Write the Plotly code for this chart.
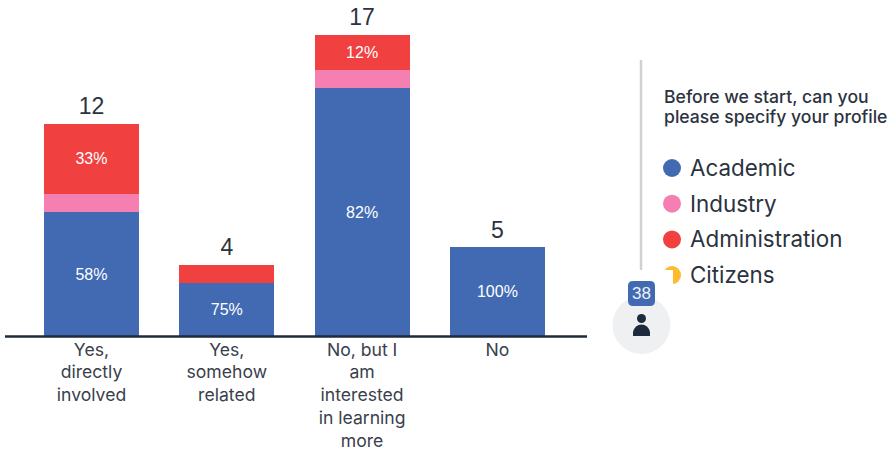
import plotly.graph_objects as go

categories = ["Yes,<br>directly<br>involved", "Yes,<br>somehow<br>related",
              "No, but I<br>am<br>interested<br>in learning<br>more", "No"]
academic = [7, 3, 14, 5]
industry = [1, 0, 1, 0]
administration = [4, 1, 2, 0]
totals = [12, 4, 17, 5]
academic_labels = ["58%", "75%", "82%", "100%"]
industry_labels = ["", "", "", ""]
administration_labels = ["33%", "", "12%", ""]
legend_names = ["Academic", "Industry", "Administration", "Citizens"]
legend_colors = ["#416ab3", "#f47fb0", "#f04040", "#fdbb2d"]
legend_title_lines = ["Before we start, can you", "please specify your profile"]
respondents = "38"

W, H = 890, 451
ML, MR, MT, MB = 5, 303, 0, 115
LABEL_FONT = "Inter"
DARK = "#2c3340"
positions = list(range(len(categories)))

fig = go.Figure()
for vals, labels, color, name in [
    (academic, academic_labels, legend_colors[0], legend_names[0]),
    (industry, industry_labels, legend_colors[1], legend_names[1]),
    (administration, administration_labels, legend_colors[2], legend_names[2]),
]:
    fig.add_trace(go.Bar(
        x=positions, y=vals, name=name, marker=dict(color=color, line_width=0),
        text=labels, textposition="inside", insidetextanchor="middle", textangle=0,
        insidetextfont=dict(family="Liberation Sans", size=16, color="white"),
        showlegend=False, hoverinfo="skip",
    ))
fig.add_trace(go.Scatter(
    x=positions, y=totals, mode="markers+text", text=[str(t) for t in totals],
    marker=dict(size=5, opacity=0),
    textposition="top center", textfont=dict(family="Liberation Sans", size=23, color=DARK),
    showlegend=False, hoverinfo="skip", cliponaxis=False,
))


def px(x):
    return (x - ML) / (W - ML - MR)


def py(y):
    return 1 - (y - MT) / (H - MT - MB)


shapes = [
    dict(type="line", xref="paper", yref="paper", x0=0, x1=1, y0=py(336.5), y1=py(336.5),
         line=dict(color="#1f2a3d", width=2.5)),
    dict(type="line", xref="paper", yref="paper", x0=px(641), x1=px(641), y0=py(60), y1=py(272),
         line=dict(color="#cfd1d4", width=2.5)),
]
annotations = []
for i, line in enumerate(legend_title_lines):
    annotations.append(dict(text=line, xref="paper", yref="paper", x=px(662), y=py(96 + i * 20.5),
                            xanchor="left", yanchor="middle", align="left", showarrow=False,
                            font=dict(family=LABEL_FONT, size=17.6, color=DARK, weight=500)))
for i, (name, color) in enumerate(zip(legend_names, legend_colors)):
    cy = 168 + i * 35.7
    shapes.append(dict(type="circle", xref="paper", yref="paper", x0=px(663), x1=px(681), y0=py(cy - 9), y1=py(cy + 9),
                       fillcolor=color, line_width=0))
    annotations.append(dict(text=name, xref="paper", yref="paper", x=px(688), y=py(cy - 0.5), xanchor="left", yanchor="middle",
                            showarrow=False, font=dict(family=LABEL_FONT, size=22.4, color=DARK)))
shapes += [
    dict(type="rect", xref="paper", yref="paper", x0=px(610), x1=px(673), y0=py(270), y1=py(300),
         fillcolor="white", line_width=0),
    dict(type="circle", xref="paper", yref="paper", x0=px(612.5), x1=px(670.5), y0=py(296), y1=py(354),
         fillcolor="#eff0f1", line_width=0),
    dict(type="path", xref="paper", yref="paper",
         path=f"M {px(633)} {py(281)} L {px(650)} {py(281)} Q {px(655)} {py(281)} {px(655)} {py(286)} "
              f"L {px(655)} {py(301)} Q {px(655)} {py(306)} {px(650)} {py(306)} L {px(633)} {py(306)} "
              f"Q {px(628)} {py(306)} {px(628)} {py(301)} L {px(628)} {py(286)} Q {px(628)} {py(281)} {px(633)} {py(281)} Z",
         fillcolor="#416ab3", line_width=0),
    dict(type="circle", xref="paper", yref="paper", x0=px(637), x1=px(646), y0=py(314), y1=py(323),
         fillcolor="#1f2a3d", line_width=0),
    dict(type="path", xref="paper", yref="paper",
         path=f"M {px(633)} {py(336)} L {px(650)} {py(336)} L {px(650)} {py(332)} "
              f"Q {px(648)} {py(324.5)} {px(641.5)} {py(324.5)} Q {px(635)} {py(324.5)} {px(633)} {py(332)} Z",
         fillcolor="#1f2a3d", line_width=0),
]
annotations.append(dict(text=respondents, xref="paper", yref="paper", x=px(641.5), y=py(293.5), xanchor="center",
                        yanchor="middle", showarrow=False,
                        font=dict(family="Liberation Sans", size=17, color="#eef2fa")))

fig.update_layout(
    width=W, height=H, barmode="stack", bargap=0.298,
    margin=dict(l=ML, r=MR, t=MT, b=MB), paper_bgcolor="white", plot_bgcolor="white",
    xaxis=dict(range=[-0.639, 3.662], tickvals=positions, ticktext=categories, tickangle=0, automargin=False,
               showgrid=False, zeroline=False, showline=False, ticks="", ticklen=0, ticklabelstandoff=1,
               tickfont=dict(family=LABEL_FONT, size=17.6, color="#3a404c")),
    yaxis=dict(range=[0, 18.98], visible=False, showgrid=False, zeroline=False, automargin=False),
    shapes=shapes, annotations=annotations,
)
fig.write_html("out.html", config=dict(displayModeBar=False),
               post_script="document.body.style.margin='0';")
